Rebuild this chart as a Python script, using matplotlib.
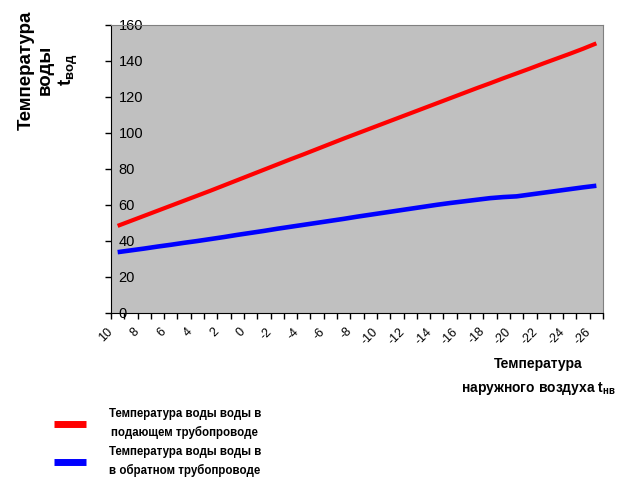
import matplotlib
matplotlib.use('Agg')
import matplotlib.pyplot as plt
import matplotlib.transforms as mtransforms

# outdoor air temperature, categories as they go on the x axis
t_outdoor = [10, 9, 8, 7, 6, 5, 4, 3, 2, 1, 0, -1, -2, -3, -4, -5, -6, -7, -8,
             -9, -10, -11, -12, -13, -14, -15, -16, -17, -18, -19, -20, -21,
             -22, -23, -24, -25, -26]

# supply water temperature (red)
t_supply = [48.4, 51.2, 54.0, 56.8, 59.6, 62.4, 65.2, 68.0, 70.9, 73.8, 76.7,
            79.6, 82.5, 85.4, 88.2, 91.1, 94.0, 96.9, 99.7, 102.5, 105.3,
            108.1, 110.9, 113.7, 116.5, 119.3, 122.1, 124.9, 127.6, 130.4,
            133.1, 135.8, 138.6, 141.3, 144.0, 146.8, 149.8]

# return water temperature (blue)
t_return = [33.8, 34.8, 35.8, 36.9, 37.9, 39.0, 40.0, 41.1, 42.2, 43.4, 44.5,
            45.6, 46.8, 47.9, 49.0, 50.1, 51.2, 52.3, 53.5, 54.6, 55.7, 56.8,
            57.9, 59.0, 60.1, 61.1, 62.0, 62.9, 63.8, 64.4, 64.8, 65.8, 66.8,
            67.8, 68.8, 69.8, 70.7]

y_ticks = [0, 20, 40, 60, 80, 100, 120, 140, 160]

legend_labels = ['Температура воды воды в\nподающем трубопроводе',
                 'Температура воды воды в\nв обратном трубопроводе']

plt.rcParams['font.family'] = ['Liberation Sans', 'DejaVu Sans']
plt.rcParams['mathtext.fontset'] = 'custom'
plt.rcParams['mathtext.rm'] = 'Liberation Sans:bold'
plt.rcParams['mathtext.it'] = 'Liberation Sans:bold'
plt.rcParams['mathtext.bf'] = 'Liberation Sans:bold'

fig = plt.figure(figsize=(6.2, 5.0), dpi=100)
ax = fig.add_axes([111 / 620, 1 - 313 / 500, (603 - 111) / 620, (313 - 25) / 500])
ax.set_facecolor('#C0C0C0')

x = list(range(len(t_outdoor)))
line_s, = ax.plot(x, t_supply, color='#FF0000', lw=3, solid_capstyle='butt')
line_r, = ax.plot(x, t_return, color='#0000FF', lw=3.3, solid_capstyle='butt')

ax.set_xlim(-0.5, len(t_outdoor) - 0.5)
ax.set_ylim(0, 160)

# y axis: ticks outside, numbers drawn inside the plot area
ax.set_yticks(y_ticks)
ax.tick_params(axis='y', direction='out', length=4, width=1, pad=-9.5,
               labelsize=10.5, colors='black')
for lbl in ax.get_yticklabels():
    lbl.set_horizontalalignment('left')

# x axis: tick marks between categories, labels every second category
ax.set_xticks([i - 0.5 for i in range(len(t_outdoor) + 1)], minor=True)
ax.set_xticks(x[::2])
ax.set_xticklabels([str(v) for v in t_outdoor[::2]], rotation=45,
                   ha='right', va='center', rotation_mode='anchor')
ax.tick_params(axis='x', which='major', length=0, pad=12, labelsize=9)
ax.tick_params(axis='x', which='minor', direction='out', length=4, width=1)
shift = mtransforms.ScaledTranslation(-7 / 100, 0, fig.dpi_scale_trans)
for lbl in ax.get_xticklabels():
    lbl.set_transform(lbl.get_transform() + shift)

for side in ['top', 'right']:
    ax.spines[side].set_color('#808080')
for side in ['left', 'bottom']:
    ax.spines[side].set_color('black')

fig.text(49 / 620, 1 - 70 / 500, 'Температура\nводы\n$\\mathrm{t}_{\\mathrm{вод}}$',
         rotation=90, ha='center', va='center', multialignment='center',
         fontsize=13.5, fontweight='bold', linespacing=1.2)

fig.text(538 / 620, 1 - 377 / 500, 'Температура\nнаружного воздуха $\\mathrm{t}_{\\mathrm{нв}}$',
         ha='center', va='center', multialignment='center',
         fontsize=10, fontweight='bold', linespacing=1.7)

leg = fig.legend([line_s, line_r], legend_labels, loc='upper left',
                 bbox_to_anchor=(44 / 620, 1 - 398 / 500), frameon=False,
                 prop={'weight': 'bold', 'size': 8.3},
                 handlelength=2.7, handletextpad=2.0, labelspacing=0.55)
for t in leg.get_texts():
    t.set_multialignment('center')
    t.set_linespacing(1.6)
for h in leg.legend_handles:
    h.set_linewidth(5)

fig.savefig('out.png', dpi=100)
